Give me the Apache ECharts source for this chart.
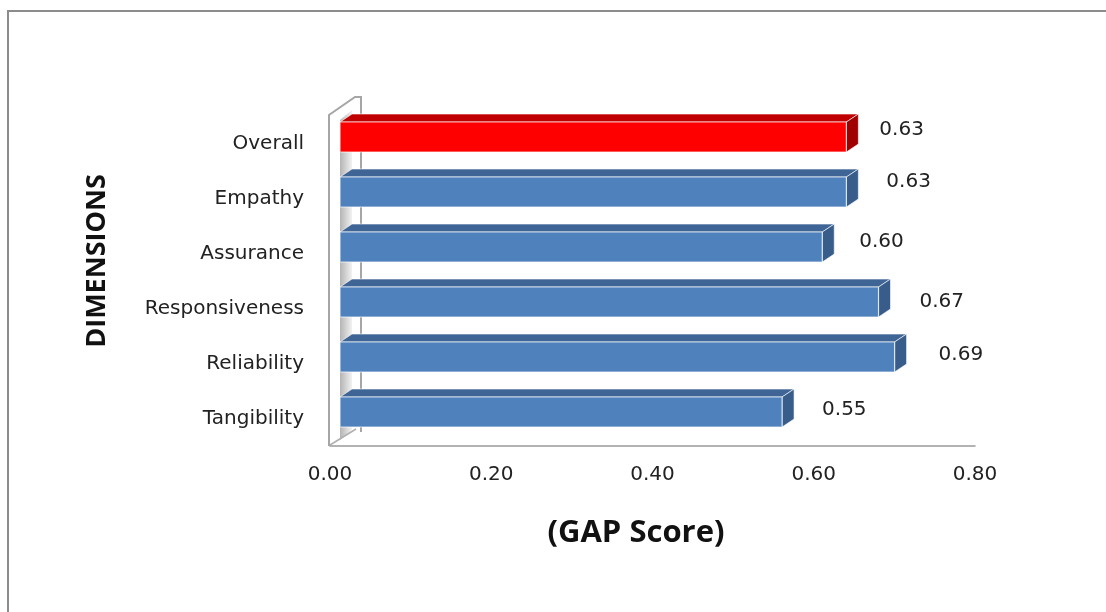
<!DOCTYPE html>
<html>
<head>
<meta charset="utf-8">
<script src="https://cdn.jsdelivr.net/npm/echarts@6/dist/echarts.min.js"></script>
<style>
html,body{margin:0;padding:0;background:#fff;}
#chart{width:1106px;height:612px;}
</style>
</head>
<body>
<div id="chart"></div>
<script>
// ---- data ----
const categories = ['Overall', 'Empathy', 'Assurance', 'Responsiveness', 'Reliability', 'Tangibility'];
const gapScores = [0.63, 0.63, 0.60, 0.67, 0.69, 0.55];
const xTicks = [0.00, 0.20, 0.40, 0.60, 0.80];
const highlightCategory = 'Overall';

// ---- layout / style (not data) ----
const labelNudge = [[33, -7], [40, -10], [37, -5], [41, 0], [44, -2], [40, -2]];
const FONT = 'DejaVu Sans';
const TITLE_FONT = 'Open Sans';
const blue = {front: '#4F81BD', top: '#3E6595', side: '#385D8A'};
const red = {front: '#FF0000', top: '#C00000', side: '#A00000'};
const DX = 12, DY = 8, BAR_H = 30;

const chart = echarts.init(document.getElementById('chart'));

const seriesData = categories.map((c, i) => [gapScores[i], i]);

function renderBar(params, api) {
  const v = api.value(0);
  const idx = api.value(1);
  const start = api.coord([0, idx]);
  const end = api.coord([v, idx]);
  const x0 = start[0], x1 = end[0], cy = end[1];
  const top = cy - BAR_H / 2, bottom = cy + BAR_H / 2;
  const col = categories[idx] === highlightCategory ? red : blue;
  const nudge = labelNudge[idx];
  return {
    type: 'group',
    children: [
      {type: 'polygon', shape: {points: [[x0, top], [x0 + DX, top - DY], [x1 + DX, top - DY], [x1, top]]},
       style: {fill: col.top, stroke: 'rgba(255,255,255,0.6)', lineWidth: 1}},
      {type: 'polygon', shape: {points: [[x1, top], [x1 + DX, top - DY], [x1 + DX, bottom - DY], [x1, bottom]]},
       style: {fill: col.side, stroke: 'rgba(255,255,255,0.6)', lineWidth: 1}},
      {type: 'rect', shape: {x: x0, y: top, width: x1 - x0, height: BAR_H},
       style: {fill: col.front, stroke: 'rgba(255,255,255,0.7)', lineWidth: 1.2}},
      {type: 'text', x: x1 + nudge[0], y: cy + nudge[1],
       style: {text: v.toFixed(2), font: '20px "' + FONT + '"', fill: '#222', verticalAlign: 'middle', align: 'left'}}
    ]
  };
}

const option = {
  backgroundColor: '#fff',
  animation: false,
  grid: [
    {left: 330, top: 116, width: 645, height: 330},
    {left: 340, top: 109.5, width: 643, height: 330}
  ],
  xAxis: [
    {gridIndex: 0, type: 'value', min: xTicks[0], max: xTicks[xTicks.length - 1], interval: xTicks[1] - xTicks[0],
     axisLine: {show: true, lineStyle: {color: '#9a9a9a', width: 1.5}},
     axisTick: {show: false}, splitLine: {show: false},
     axisLabel: {margin: 19, color: '#222', fontFamily: FONT, fontSize: 20, formatter: v => v.toFixed(2)}},
    {gridIndex: 1, type: 'value', min: xTicks[0], max: xTicks[xTicks.length - 1], show: false}
  ],
  yAxis: [
    {gridIndex: 0, type: 'category', data: categories, inverse: true,
     axisLine: {show: false}, axisTick: {show: false},
     axisLabel: {margin: 26, color: '#222', fontFamily: FONT, fontSize: 20}},
    {gridIndex: 1, type: 'category', data: categories, inverse: true, show: false}
  ],
  graphic: [
    {type: 'rect', z: 0, shape: {x: 8, y: 11, width: 1200, height: 700},
     style: {fill: 'none', stroke: '#8c8c8c', lineWidth: 2}},
    // back wall inner face (visible in the gaps)
    {type: 'polygon', z: 0, shape: {points: [[340, 120], [352, 110], [352, 430], [340, 440]]},
     style: {fill: new echarts.graphic.LinearGradient(0, 0, 1, 0, [
       {offset: 0, color: '#b4b4b4'}, {offset: 1, color: '#f2f2f2'}])}},
    // wall outline
    {type: 'polyline', z: 0, shape: {points: [[329, 446], [329, 115], [355, 97], [361, 97], [361, 432]]},
     style: {fill: 'none', stroke: '#a6a6a6', lineWidth: 2}},
    {type: 'line', z: 0, shape: {x1: 330, y1: 445, x2: 356, y2: 429},
     style: {stroke: '#b0b0b0', lineWidth: 1.5}},
    {type: 'text', z: 10, x: 97, y: 261, rotation: Math.PI / 2,
     style: {text: 'DIMENSIONS', font: 'bold 27px "' + TITLE_FONT + '"', fill: '#111', align: 'center', verticalAlign: 'middle'}},
    {type: 'text', z: 10, x: 636, y: 533,
     style: {text: '(GAP Score)', font: 'bold 31px "' + TITLE_FONT + '"', fill: '#111', align: 'center', verticalAlign: 'middle'}}
  ],
  series: [
    {type: 'custom', xAxisIndex: 1, yAxisIndex: 1, z: 5, renderItem: renderBar,
     encode: {x: 0, y: 1}, data: seriesData}
  ]
};
chart.setOption(option);
</script>
</body>
</html>
